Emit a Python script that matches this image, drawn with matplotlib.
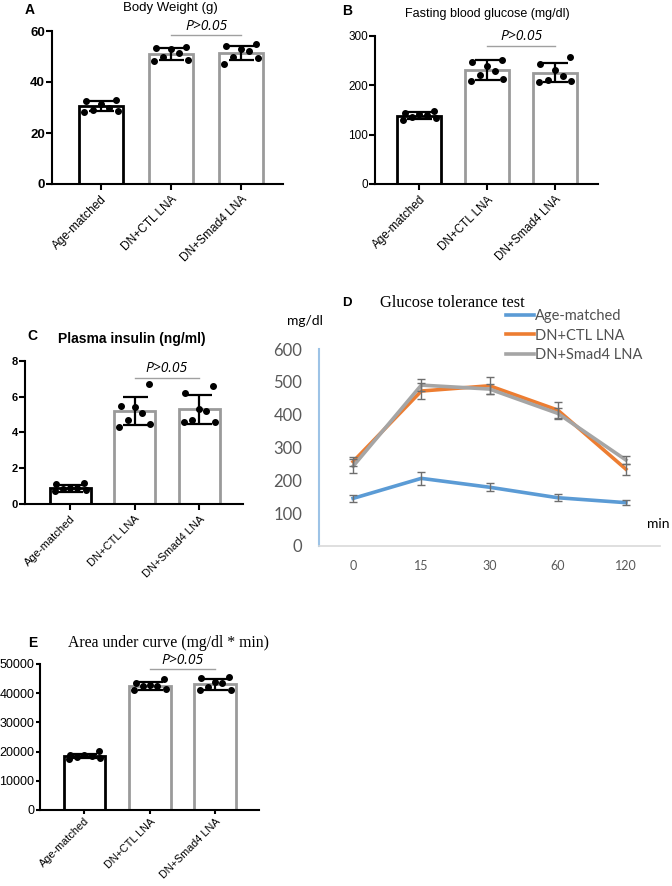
import numpy as np
import matplotlib
matplotlib.use('Agg')
import matplotlib.pyplot as plt

W, H = 672, 886

groups = ['Age-matched', 'DN+CTL LNA', 'DN+Smad4 LNA']

# A - body weight (g)
bw_mean = [30.5, 51.0, 51.3]
bw_sd = [2.0, 2.3, 2.8]
bw_pts = [[32.8, 32.5, 31.2, 30.0, 29.0, 28.3, 28.6],
          [53.8, 53.2, 52.8, 51.5, 50.0, 48.8, 48.3],
          [55.0, 54.0, 53.1, 52.2, 50.0, 49.5, 47.0]]

# B - fasting blood glucose (mg/dl)
fbg_mean = [138, 231, 226]
fbg_sd = [7, 20, 20]
fbg_pts = [[147, 144, 142, 140, 136, 133, 130],
           [252, 248, 240, 230, 221, 213, 209],
           [258, 244, 232, 219, 209, 207, 210]]

# C - plasma insulin (ng/ml)
ins_mean = [0.88, 5.2, 5.3]
ins_sd = [0.2, 0.78, 0.8]
ins_pts = [[1.2, 1.1, 0.92, 0.9, 0.85, 0.75, 0.8],
           [6.7, 5.5, 5.4, 5.1, 4.7, 4.5, 4.3],
           [6.6, 6.2, 5.3, 5.2, 4.7, 4.6, 4.6]]

# D - glucose tolerance test
gtt_time = ['0', '15', '30', '60', '120']
gtt_age = [145, 206, 179, 147, 132]
gtt_age_err = [10, 19, 13, 10, 8]
gtt_ctl = [257, 472, 488, 414, 234]
gtt_ctl_err = [13, 25, 26, 24, 17]
gtt_smad = [243, 490, 478, 404, 262]
gtt_smad_err = [22, 18, 16, 16, 13]

# E - area under curve
auc_mean = [18500, 42500, 43000]
auc_sd = [800, 1500, 1900]
auc_pts = [[20300, 19000, 18800, 18500, 18200, 17800, 17500],
           [44800, 43500, 42800, 42500, 42500, 41500, 41000],
           [45500, 45300, 43800, 43500, 42000, 41000, 41000]]

EDGES = ['black', '#9a9a9a', '#9a9a9a']
SANS = 'Liberation Sans'
SERIF = 'Liberation Serif'

fig = plt.figure(figsize=(W / 100, H / 100), dpi=100)


def px_axes(l, t, r, b):
    return fig.add_axes([l / W, 1 - b / H, (r - l) / W, (b - t) / H])


def ftext(x, y, s, **kw):
    kw.setdefault('va', 'center')
    fig.text(x / W, 1 - y / H, s, **kw)


def spread(vals, width=0.24):
    # horizontal scatter spread for dot plots
    n = len(vals)
    order = np.argsort(vals)
    offs = np.zeros(n)
    pattern = np.array([-1.0, 1.0, -0.45, 0.45, 0.0, -0.9, 0.9])
    for i, idx in enumerate(order):
        offs[idx] = pattern[i % len(pattern)] * width
    return offs


def bar_panel(ax, means, sds, pts, ylim, yticks, xlim, bold_ticks, pline, ptext,
              xfs=8.4, yfs=9, tlen=4, xpad=3):
    x = np.arange(3)
    ax.bar(x, means, width=0.64, color='white', edgecolor=EDGES, linewidth=2.0, zorder=2)
    for i in range(3):
        ax.scatter(x[i] + spread(pts[i]), pts[i], s=16, color='black', zorder=3)
        ax.errorbar(x[i], means[i], yerr=sds[i], color='black', lw=1.6,
                    capsize=9, capthick=1.6, zorder=4)
    ax.plot([1, 2], [pline, pline], color='#a0a0a0', lw=1.0)
    ax.text(1.5, ptext, 'P>0.05', ha='center', va='bottom', fontsize=10,
            style='italic', family='Open Sans')
    ax.set_xlim(*xlim)
    ax.set_ylim(*ylim)
    ax.set_yticks(yticks)
    ax.set_xticks(x)
    ax.set_xticklabels(groups, rotation=45, ha='right', rotation_mode='anchor',
                       fontsize=xfs, family=SANS)
    for lab in ax.get_yticklabels():
        lab.set_family(SANS)
        lab.set_fontsize(yfs)
        if bold_ticks:
            lab.set_fontweight('bold')
    for s in ['top', 'right']:
        ax.spines[s].set_visible(False)
    for s in ['left', 'bottom']:
        ax.spines[s].set_linewidth(1.5)
    ax.tick_params(width=1.5, length=tlen)
    ax.tick_params(axis='x', pad=xpad)
    ax.tick_params(axis='y', pad=1)


# A
axA = px_axes(52, 31, 283, 184)
bar_panel(axA, bw_mean, bw_sd, bw_pts, (0, 60), [0, 20, 40, 60], (-0.7, 2.6), True, 58.5, 59.0,
          xfs=8.6, yfs=9.5)
ftext(25, 10, 'A', fontsize=10, fontweight='bold', family=SANS)
ftext(170, 8, 'Body Weight (g)', fontsize=9.5, ha='center', family=SANS)

# B
axB = px_axes(375, 36, 598, 184)
bar_panel(axB, fbg_mean, fbg_sd, fbg_pts, (0, 300), [0, 100, 200, 300], (-0.65, 2.63), False, 280, 283,
          xfs=8.4, yfs=8.5)
ftext(342, 11, 'B', fontsize=10, fontweight='bold', family=SANS)
ftext(487, 14, 'Fasting blood glucose (mg/dl)', fontsize=9, ha='center', family=SANS)

# C
axC = px_axes(25, 361, 243, 504)
bar_panel(axC, ins_mean, ins_sd, ins_pts, (0, 8), [0, 2, 4, 6, 8], (-0.7, 2.68), True, 7.05, 7.15,
          xfs=8.0, yfs=8)
ftext(27, 336, 'C', fontsize=10, fontweight='bold', family=SANS)
ftext(132, 339, 'Plasma insulin (ng/ml)', fontsize=10, fontweight='bold', ha='center', family=SANS)

# D
axD = px_axes(319, 349, 660, 546)
xd = np.arange(len(gtt_time))
series = [(gtt_age, gtt_age_err, '#5B9BD5', 'Age-matched'),
          (gtt_ctl, gtt_ctl_err, '#ED7D31', 'DN+CTL LNA'),
          (gtt_smad, gtt_smad_err, '#A5A5A5', 'DN+Smad4 LNA')]
for vals, errs, col, lab in series:
    axD.plot(xd, vals, color=col, lw=2.6, label=lab, zorder=2)
    axD.errorbar(xd, vals, yerr=errs, fmt='none', ecolor='#6e6e6e', elinewidth=1.0,
                 capsize=3, capthick=1.0, zorder=3)
axD.set_xlim(-0.5, 4.5)
axD.set_ylim(0, 600)
axD.set_yticks(range(0, 601, 100))
axD.set_xticks(xd)
axD.set_xticklabels(gtt_time)
axD.tick_params(length=0)
axD.tick_params(axis='y', labelsize=12, labelcolor='#595959', pad=12)
axD.tick_params(axis='x', labelsize=9, labelcolor='#595959', pad=10)
for lab in axD.get_xticklabels() + axD.get_yticklabels():
    lab.set_family('Lato')
for s in ['top', 'right']:
    axD.spines[s].set_visible(False)
axD.spines['left'].set_color('#9DC3E6')
axD.spines['left'].set_linewidth(1.5)
axD.spines['bottom'].set_color('#D9D9D9')
axD.spines['bottom'].set_linewidth(1.2)
axD.legend(loc='upper left', bbox_to_anchor=(506 / W, 1 - 309 / H),
           bbox_transform=fig.transFigure, frameon=False,
           handlelength=1.9, handletextpad=0.1, labelspacing=0.38, borderpad=0,
           borderaxespad=0, prop={'family': 'Lato', 'size': 10.5}, labelcolor='#505050')
ftext(342, 303, 'D', fontsize=9.5, fontweight='bold', family=SANS)
ftext(380, 303, 'Glucose tolerance test', fontsize=11.8, family=SERIF)
ftext(287, 321, 'mg/dl', fontsize=10, family='Lato')
ftext(647, 524, 'min', fontsize=10, family='Lato')

# E
axE = px_axes(40, 664, 259, 810)
bar_panel(axE, auc_mean, auc_sd, auc_pts, (0, 50000), range(0, 50001, 10000), (-0.68, 2.67), False, 48300, 48700,
          xfs=7.8, yfs=9, tlen=3, xpad=1.5)
ftext(28, 643, 'E', fontsize=10, fontweight='bold', family=SANS)
ftext(168, 643, 'Area under curve (mg/dl * min)', fontsize=11.3, ha='center', family=SERIF)

fig.savefig('out.png', dpi=100)
